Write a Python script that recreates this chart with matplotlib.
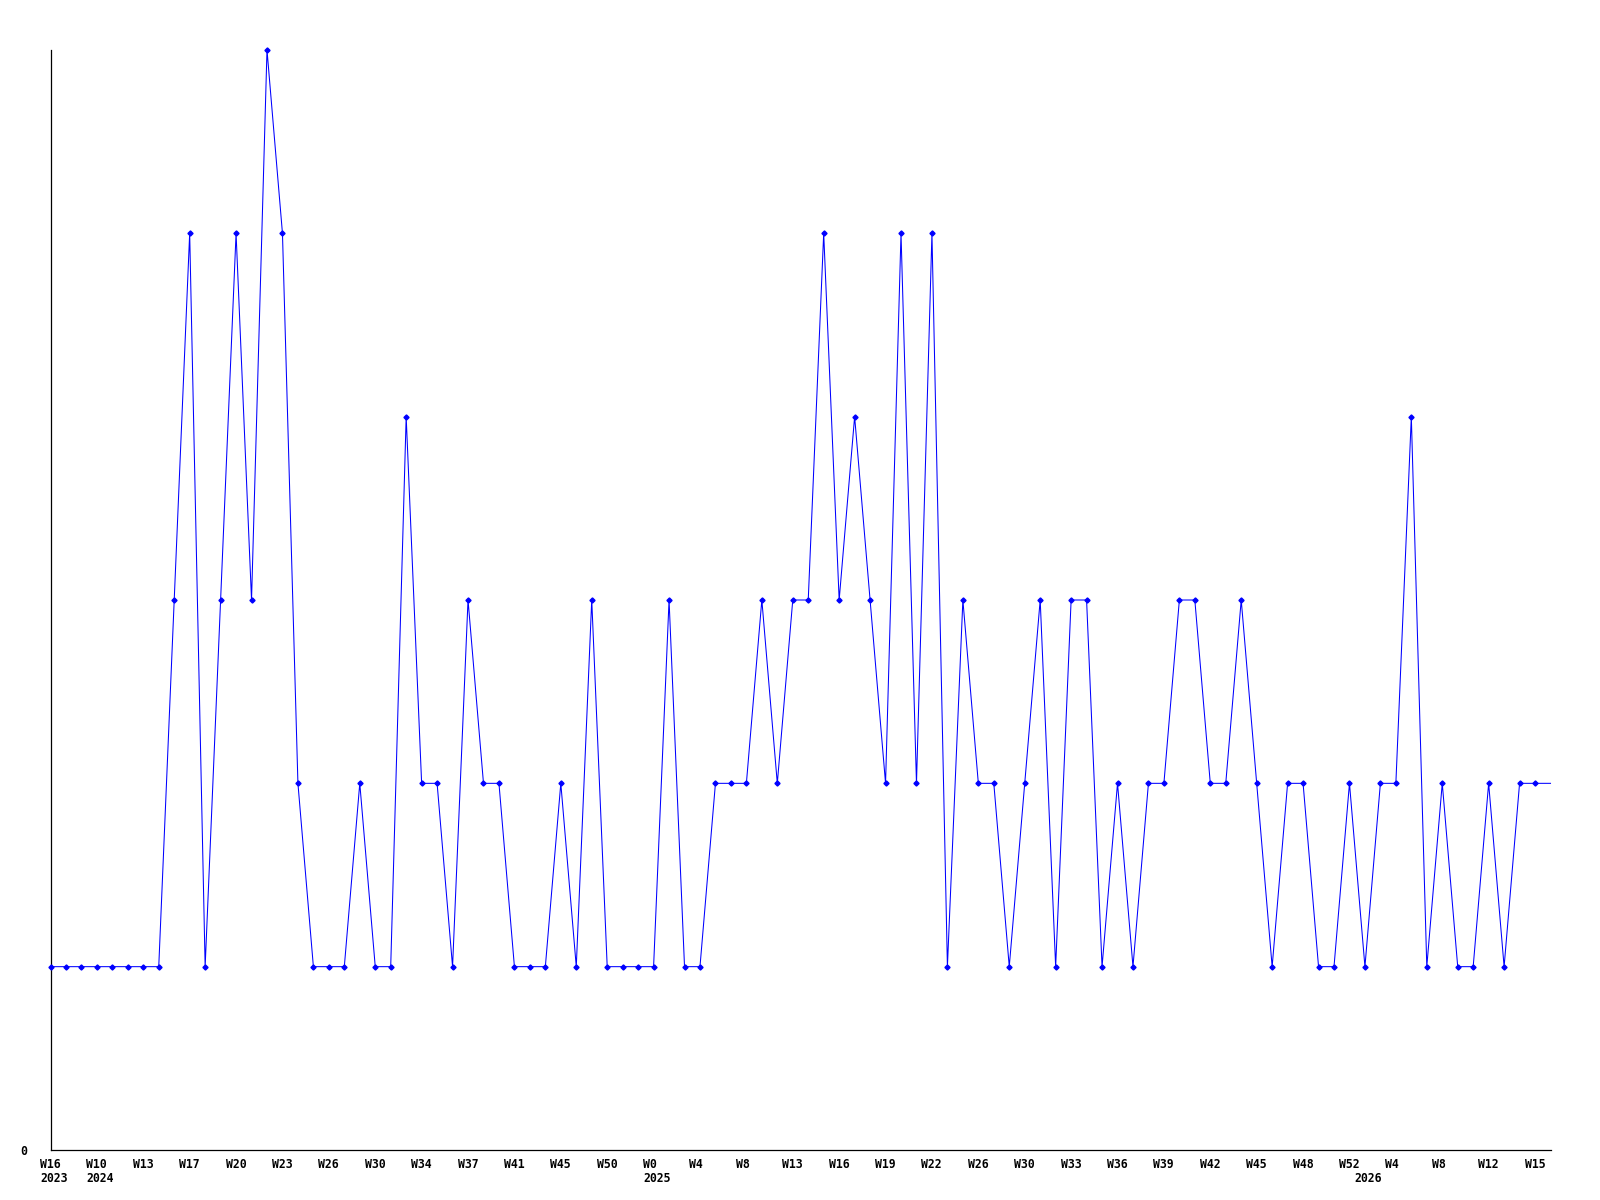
import matplotlib
matplotlib.use("Agg")
import matplotlib.pyplot as plt
from matplotlib.transforms import ScaledTranslation

# weekly values, one per point (last value only continues the line to the edge)
values = [1, 1, 1, 1, 1, 1, 1, 1, 3, 5,
          1, 3, 5, 3, 6, 5, 2, 1, 1, 1,
          2, 1, 1, 4, 2, 2, 1, 3, 2, 2,
          1, 1, 1, 2, 1, 3, 1, 1, 1, 1,
          3, 1, 1, 2, 2, 2, 3, 2, 3, 3,
          5, 3, 4, 3, 2, 5, 2, 5, 1, 3,
          2, 2, 1, 2, 3, 1, 3, 3, 1, 2,
          1, 2, 2, 3, 3, 2, 2, 3, 2, 1,
          2, 2, 1, 1, 2, 1, 2, 2, 4, 1,
          2, 1, 1, 2, 1, 2, 2, 2]
n_marked = 97

week_labels = ["W16", "W10", "W13", "W17", "W20", "W23", "W26", "W30", "W34",
               "W37", "W41", "W45", "W50", "W0", "W4", "W8", "W13", "W16",
               "W19", "W22", "W26", "W30", "W33", "W36", "W39", "W42", "W45",
               "W48", "W52", "W4", "W8", "W12", "W15"]
week_pos = list(range(0, 97, 3))
year_labels = ["2023", "2024", "2025", "2026"]
year_pos = [0, 3, 39, 85]

fig = plt.figure(figsize=(16, 12), dpi=100)
ax = fig.add_axes([50.5 / 1600, 50 / 1200, 1500 / 1600, 1100 / 1200])

x = list(range(len(values)))
ax.plot(x, values, color="#0000ff", linewidth=0.75, marker="D", markersize=2.6,
        markevery=list(range(n_marked)), clip_on=False, zorder=3)

ax.set_xlim(0, len(values) - 1)
ax.set_ylim(0, 6)

for side in ["top", "right"]:
    ax.spines[side].set_visible(False)
for side in ["left", "bottom"]:
    ax.spines[side].set_linewidth(0.9)
    ax.spines[side].set_color("black")

font = dict(family="DejaVu Sans Mono", weight="bold", size=8.3)

ax.set_xticks(week_pos)
ax.set_xticklabels(week_labels, **font)
ax.tick_params(axis="x", which="major", length=0, pad=6)

shift = ScaledTranslation(-10.5 / 100, 0, fig.dpi_scale_trans)
for lab in ax.get_xticklabels():
    lab.set_horizontalalignment("left")
    lab.set_transform(lab.get_transform() + shift)

# year labels under the week labels
year_trans = ax.get_xaxis_transform() + ScaledTranslation(-10.5 / 100, -29 / 100, fig.dpi_scale_trans)
for pos, yr in zip(year_pos, year_labels):
    ax.text(pos, 0, yr, transform=year_trans, ha="left", va="center", **font)

ax.set_yticks([0])
ax.set_yticklabels(["0"], **font)
ax.tick_params(axis="y", length=0, pad=17)

fig.savefig("out.png", dpi=100, facecolor="white")
